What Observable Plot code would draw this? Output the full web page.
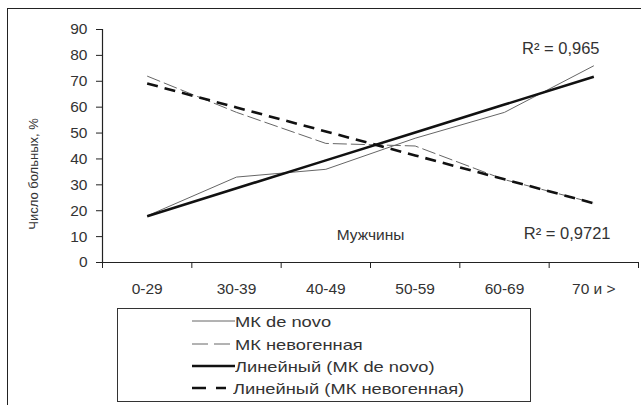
<!DOCTYPE html>
<html><head><meta charset="utf-8">
<script src="https://cdn.jsdelivr.net/npm/d3@7"></script>
<script src="https://cdn.jsdelivr.net/npm/@observablehq/plot@0.6"></script>
<style>
body{margin:0;background:#fff;font-family:"Liberation Sans",Arial,sans-serif;}
#wrap{position:relative;width:641px;height:405px;overflow:hidden;background:#fff;}
#wrap > svg{position:absolute;left:0;top:0;}
#frame{position:absolute;left:7px;top:8px;width:700px;height:500px;border-left:1.5px solid #222;border-top:1.5px solid #222;pointer-events:none;}
#legend{position:absolute;left:117px;top:308px;width:414px;height:94px;border:1px solid #333;background:#fff;box-sizing:border-box;}
.row{position:absolute;left:0;width:100%;height:20px;display:flex;align-items:center;}
.row svg{display:block;margin-left:74px;flex:none;}
.row span{font-size:15px;color:#333;margin-left:0;white-space:nowrap;display:inline-block;transform:scaleX(1.22);transform-origin:0 50%;}
</style></head>
<body><div id="wrap"><div id="frame"></div></div>
<script>
const categories = ["0-29", "30-39", "40-49", "50-59", "60-69", "70 и >"];
const deNovo = [18, 33, 36, 48, 58, 76];
const nevogen = [72, 58, 46, 45, 32, 23];
const seriesNames = ["МК de novo", "МК невогенная"];
const trendNames = ["Линейный (МК de novo)", "Линейный (МК невогенная)"];
const r2Labels = ["R² = 0,965", "R² = 0,9721"];
const panelLabel = "Мужчины";
const yLabel = "Число больных, %";
const yTicks = [0, 10, 20, 30, 40, 50, 60, 70, 80, 90];

const toRows = vals => vals.map((v, i) => ({x: i + 1, y: v}));
function trend(vals) {
  const xs = vals.map((_, i) => i + 1);
  const mx = d3.mean(xs), my = d3.mean(vals);
  const sxy = d3.sum(xs, (x, i) => (x - mx) * (vals[i] - my));
  const sxx = d3.sum(xs, x => (x - mx) ** 2);
  const b = sxy / sxx, a = my - b * mx;
  return xs.map(x => ({x, y: a + b * x}));
}

const styles = [
  {stroke: "#666", strokeWidth: 1, dash: null, swatch: 43, legendDash: null},
  {stroke: "#666", strokeWidth: 1, dash: "14,4", swatch: 43, legendDash: "16,6"},
  {stroke: "#111", strokeWidth: 2.6, dash: null, swatch: 43, legendDash: null},
  {stroke: "#111", strokeWidth: 2.6, dash: "11,7", swatch: 41, legendDash: "14,10"}
];

const n = categories.length;
const xDomain = [0.5, n + 0.5];
const bounds = d3.range(0.5, n + 1, 1);
const centers = d3.range(1, n + 1);

const lineSets = [toRows(deNovo), toRows(nevogen), trend(deNovo), trend(nevogen)];

const plot = Plot.plot({
  width: 641, height: 405,
  marginLeft: 102, marginRight: 3, marginTop: 29, marginBottom: 143,
  style: {fontFamily: "'Liberation Sans', Arial, sans-serif", fontSize: "15px", color: "#333", background: "transparent"},
  x: {type: "linear", domain: xDomain},
  y: {domain: [0, 90]},
  marks: [
    Plot.ruleY([0], {stroke: "#222", strokeWidth: 1.2}),
    Plot.ruleX([xDomain[0]], {y1: 0, y2: 90, stroke: "#222", strokeWidth: 1.2}),
    Plot.axisY({ticks: yTicks, tickSize: 6, tickPadding: 9, label: null, fontSize: 15.5, stroke: "#222"}),
    Plot.axisX({ticks: bounds, tickSize: 6, tickFormat: () => "", label: null, stroke: "#222"}),
    Plot.axisX({ticks: centers, tickSize: 0, tickPadding: 20, tickFormat: d => categories[d - 1], label: null, fontSize: 15.5}),
    ...lineSets.map((rows, i) => Plot.line(rows, {
      x: "x", y: "y", stroke: styles[i].stroke, strokeWidth: styles[i].strokeWidth,
      strokeDasharray: styles[i].dash, strokeLinecap: "butt"
    })),
    Plot.text([r2Labels[0]], {frameAnchor: "top-right", textAnchor: "end", lineAnchor: "middle", dx: -39, dy: 19, fontSize: 16.5, fill: "#333"}),
    Plot.text([r2Labels[1]], {frameAnchor: "bottom-right", textAnchor: "end", lineAnchor: "middle", dx: -28, dy: -29, fontSize: 16.5, fill: "#333"}),
    Plot.text([panelLabel], {frameAnchor: "bottom", lineAnchor: "middle", dy: -27, fontSize: 15.5, fill: "#333"}),
    Plot.text([yLabel], {frameAnchor: "left", rotate: -90, textAnchor: "middle", lineAnchor: "middle", dx: -69, dy: 28, fontSize: 13, fill: "#333"})
  ]
});
const wrap = document.getElementById("wrap");
wrap.insertBefore(plot, wrap.firstChild);

const legend = document.createElement("div");
legend.id = "legend";
const names = [...seriesNames, ...trendNames];
const rowTops = [2, 25, 47, 69];
names.forEach((name, i) => {
  const row = document.createElement("div");
  row.className = "row";
  row.style.top = rowTops[i] + "px";
  const st = styles[i];
  const s = d3.create("svg").attr("width", st.swatch).attr("height", 10);
  s.append("line").attr("x1", 0).attr("x2", st.swatch === 43 ? 43 : 34).attr("y1", 5).attr("y2", 5)
    .attr("stroke", st.stroke).attr("stroke-width", st.strokeWidth)
    .attr("stroke-dasharray", st.legendDash);
  row.appendChild(s.node());
  const t = document.createElement("span");
  t.textContent = name;
  row.appendChild(t);
  legend.appendChild(row);
});
wrap.appendChild(legend);
</script></body></html>
